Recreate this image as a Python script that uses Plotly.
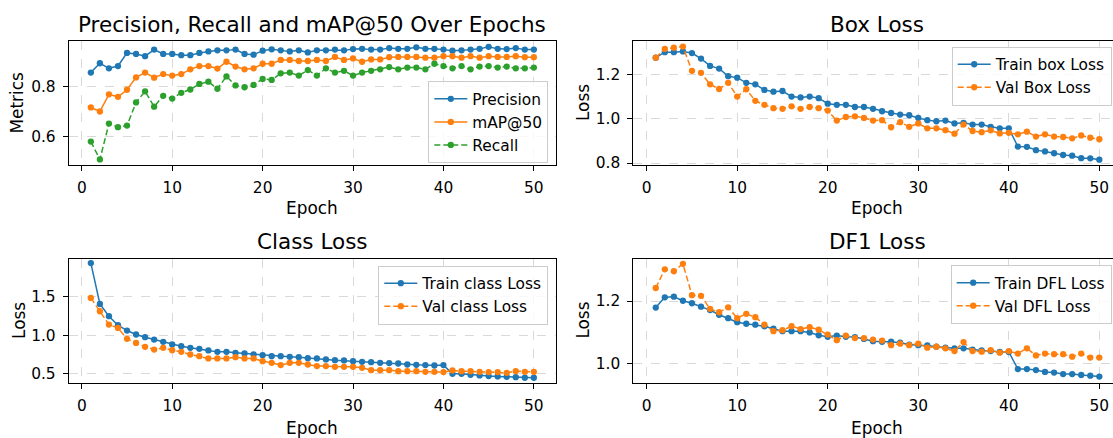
import plotly.graph_objects as go

epochs = list(range(1, 51))

precision = [0.855, 0.892, 0.872, 0.881, 0.933, 0.929, 0.920, 0.946, 0.929, 0.929,
             0.924, 0.924, 0.933, 0.939, 0.943, 0.943, 0.946, 0.929, 0.926, 0.942,
             0.947, 0.943, 0.939, 0.943, 0.935, 0.943, 0.943, 0.946, 0.943, 0.948,
             0.949, 0.946, 0.946, 0.952, 0.949, 0.949, 0.955, 0.949, 0.949, 0.946,
             0.942, 0.943, 0.946, 0.949, 0.957, 0.949, 0.948, 0.952, 0.946, 0.946]
map50 = [0.717, 0.701, 0.769, 0.759, 0.787, 0.836, 0.855, 0.835, 0.849, 0.843,
         0.849, 0.868, 0.881, 0.881, 0.871, 0.898, 0.879, 0.868, 0.872, 0.890,
         0.890, 0.905, 0.905, 0.901, 0.901, 0.905, 0.901, 0.917, 0.905, 0.911,
         0.898, 0.907, 0.907, 0.916, 0.917, 0.917, 0.917, 0.914, 0.914, 0.920,
         0.920, 0.914, 0.920, 0.914, 0.920, 0.917, 0.917, 0.920, 0.916, 0.916]
recall = [0.582, 0.511, 0.653, 0.639, 0.645, 0.737, 0.781, 0.720, 0.763, 0.752,
          0.775, 0.788, 0.810, 0.819, 0.791, 0.840, 0.804, 0.797, 0.806, 0.830,
          0.826, 0.852, 0.855, 0.843, 0.865, 0.843, 0.872, 0.855, 0.862, 0.843,
          0.855, 0.862, 0.868, 0.877, 0.868, 0.875, 0.875, 0.868, 0.890, 0.881,
          0.872, 0.881, 0.868, 0.879, 0.881, 0.875, 0.879, 0.872, 0.872, 0.875]

train_box = [1.274, 1.299, 1.299, 1.302, 1.295, 1.270, 1.237, 1.225, 1.191, 1.184,
             1.161, 1.154, 1.129, 1.121, 1.124, 1.099, 1.095, 1.099, 1.092, 1.067,
             1.062, 1.062, 1.052, 1.052, 1.044, 1.033, 1.025, 1.018, 1.015, 1.003,
             0.993, 0.988, 0.991, 0.978, 0.981, 0.973, 0.973, 0.963, 0.956, 0.956,
             0.874, 0.873, 0.858, 0.852, 0.844, 0.836, 0.833, 0.822, 0.821, 0.815]
val_box = [1.274, 1.314, 1.319, 1.324, 1.215, 1.206, 1.154, 1.133, 1.161, 1.099,
           1.132, 1.080, 1.062, 1.047, 1.044, 1.055, 1.044, 1.052, 1.047, 1.036,
           0.991, 1.007, 1.010, 1.003, 0.991, 0.993, 0.961, 0.984, 0.963, 0.978,
           0.956, 0.956, 0.948, 0.932, 0.973, 0.944, 0.939, 0.947, 0.933, 0.936,
           0.929, 0.941, 0.919, 0.929, 0.919, 0.917, 0.911, 0.924, 0.914, 0.907]

train_cls = [1.931, 1.403, 1.245, 1.129, 1.060, 1.009, 0.974, 0.944, 0.914, 0.880,
             0.858, 0.837, 0.824, 0.803, 0.785, 0.785, 0.773, 0.764, 0.751, 0.742,
             0.730, 0.730, 0.721, 0.717, 0.704, 0.700, 0.687, 0.678, 0.674, 0.665,
             0.657, 0.652, 0.644, 0.640, 0.635, 0.622, 0.618, 0.614, 0.609, 0.614,
             0.502, 0.502, 0.489, 0.481, 0.472, 0.468, 0.464, 0.459, 0.451, 0.451]
val_cls = [1.481, 1.309, 1.137, 1.094, 0.953, 0.901, 0.850, 0.815, 0.837, 0.807,
           0.785, 0.751, 0.730, 0.700, 0.700, 0.700, 0.717, 0.700, 0.700, 0.665,
           0.644, 0.614, 0.644, 0.644, 0.622, 0.601, 0.601, 0.592, 0.592, 0.592,
           0.579, 0.549, 0.549, 0.549, 0.536, 0.536, 0.536, 0.528, 0.528, 0.524,
           0.545, 0.536, 0.536, 0.528, 0.524, 0.524, 0.515, 0.536, 0.528, 0.528]

train_dfl = [1.179, 1.212, 1.214, 1.201, 1.193, 1.182, 1.171, 1.156, 1.145, 1.132,
             1.127, 1.124, 1.119, 1.111, 1.103, 1.103, 1.103, 1.099, 1.090, 1.085,
             1.089, 1.085, 1.084, 1.078, 1.071, 1.069, 1.069, 1.066, 1.060, 1.058,
             1.057, 1.053, 1.050, 1.048, 1.048, 1.044, 1.041, 1.039, 1.036, 1.036,
             0.981, 0.981, 0.978, 0.972, 0.970, 0.965, 0.965, 0.962, 0.960, 0.957]
val_dfl = [1.242, 1.302, 1.296, 1.320, 1.219, 1.217, 1.175, 1.164, 1.180, 1.145,
           1.159, 1.148, 1.124, 1.103, 1.106, 1.119, 1.110, 1.116, 1.108, 1.092,
           1.074, 1.089, 1.081, 1.081, 1.076, 1.073, 1.058, 1.063, 1.058, 1.063,
           1.050, 1.053, 1.048, 1.039, 1.068, 1.039, 1.037, 1.042, 1.034, 1.039,
           1.031, 1.048, 1.025, 1.031, 1.029, 1.029, 1.021, 1.031, 1.018, 1.018]

titles = ["Precision, Recall and mAP@50 Over Epochs", "Box Loss", "Class Loss", "DF1 Loss"]
xticks = [0, 10, 20, 30, 40, 50]

BLUE, ORANGE, GREEN = "#1f77b4", "#ff7f0e", "#2ca02c"
FONT = "DejaVu Sans"
W, H = 1113, 438
TICK = 15.4
LAB = 16.9
TIT = 21.5


def px(x):
    return x / W


def py(y):
    return 1 - y / H


fig = go.Figure()


def add(x, y, name, color, dash, xa, ya, leg):
    fig.add_trace(go.Scatter(
        x=x, y=y, name=name, mode="lines+markers",
        line=dict(color=color, width=1.5, dash=dash),
        marker=dict(color=color, size=6.3),
        xaxis=xa, yaxis=ya, legend=leg, legendgroup=name,
    ))


DASH = "6px,3px"
add(epochs, precision, "Precision", BLUE, "solid", "x", "y", "legend")
add(epochs, map50, "mAP@50", ORANGE, "solid", "x", "y", "legend")
add(epochs, recall, "Recall", GREEN, DASH, "x", "y", "legend")
add(epochs, train_box, "Train box Loss", BLUE, "solid", "x2", "y2", "legend2")
add(epochs, val_box, "Val Box Loss", ORANGE, DASH, "x2", "y2", "legend2")
add(epochs, train_cls, "Train class Loss", BLUE, "solid", "x3", "y3", "legend3")
add(epochs, val_cls, "Val class Loss", ORANGE, DASH, "x3", "y3", "legend3")
add(epochs, train_dfl, "Train DFL Loss", BLUE, "solid", "x4", "y4", "legend4")
add(epochs, val_dfl, "Val DFL Loss", ORANGE, DASH, "x4", "y4", "legend4")

left_dom = [px(68.7), px(556.0)]
right_dom = [px(633.3), 1.0]
top_dom = [py(167.7), py(41.7)]
bot_dom = [py(389.0), py(262.7)]

common = dict(
    showline=True, linecolor="black", linewidth=1,
    ticks="outside", ticklen=5, tickwidth=1, tickcolor="black",
    showgrid=True, gridcolor="#d9d9d9", griddash="dash", gridwidth=1,
    zeroline=False, tickfont=dict(family=FONT, size=TICK, color="black"),
    ticklabelstandoff=4,
)

fig.update_layout(
    xaxis=dict(domain=left_dom, range=[-1.45, 52.45], tickvals=xticks, mirror=True, anchor="y", **common),
    yaxis=dict(domain=top_dom, range=[0.489, 0.980], tickvals=[0.6, 0.8], tickformat=".1f", mirror=True, anchor="x", **common),
    xaxis2=dict(domain=right_dom, range=[-1.48, 51.51], tickvals=xticks, mirror=True, anchor="y2", **common),
    yaxis2=dict(domain=top_dom, range=[0.791, 1.349], tickvals=[0.8, 1.0, 1.2], tickformat=".1f", mirror=False, anchor="x2", **common),
    xaxis3=dict(domain=left_dom, range=[-1.45, 52.45], tickvals=xticks, mirror=True, anchor="y3", **common),
    yaxis3=dict(domain=bot_dom, range=[0.386, 1.99], tickvals=[0.5, 1.0, 1.5], tickformat=".1f", mirror=True, anchor="x3", **common),
    xaxis4=dict(domain=right_dom, range=[-1.48, 51.51], tickvals=xticks, mirror=True, anchor="y4", **common),
    yaxis4=dict(domain=bot_dom, range=[0.937, 1.337], tickvals=[1.0, 1.2], tickformat=".1f", mirror=False, anchor="x4", **common),
)

legend_common = dict(
    bgcolor="rgba(255,255,255,0.8)", bordercolor="#cccccc", borderwidth=1,
    font=dict(family=FONT, size=TICK, color="black"),
    tracegroupgap=0, itemwidth=33,
)
fig.update_layout(
    legend=dict(x=px(548.3), y=py(166), xanchor="right", yanchor="bottom", **legend_common),
    legend2=dict(x=px(1111.7), y=py(47.5), xanchor="right", yanchor="top", **legend_common),
    legend3=dict(x=px(548.3), y=py(270.0), xanchor="right", yanchor="top", **legend_common),
    legend4=dict(x=px(1111.7), y=py(269.5), xanchor="right", yanchor="top", **legend_common),
)

ann = []
title_pos = [(312.4, 24.5), (877.4, 24.5), (312.4, 245.5), (877.4, 245.5)]
for t, (x, y) in zip(titles, title_pos):
    ann.append(dict(text=t, x=px(x), y=py(y), xref="paper", yref="paper",
                    xanchor="center", yanchor="middle", showarrow=False,
                    font=dict(family=FONT, size=TIT, color="black")))
for (x, y) in [(312.4, 211.5), (877.4, 211.5), (312.4, 435.0), (877.4, 435.0)]:
    ann.append(dict(text="Epoch", x=px(x), y=py(y), xref="paper", yref="paper",
                    xanchor="center", yanchor="middle", showarrow=False,
                    font=dict(family=FONT, size=LAB, color="black")))
for t, (x, y) in zip(["Metrics", "Loss", "Loss", "Loss"],
                     [(17.5, 104.7), (583.0, 104.7), (18.3, 325.8), (583.0, 325.8)]):
    ann.append(dict(text=t, x=px(x), y=py(y), xref="paper", yref="paper",
                    xanchor="center", yanchor="middle", textangle=-90, showarrow=False,
                    font=dict(family=FONT, size=LAB, color="black")))

fig.update_layout(
    annotations=ann,
    width=W, height=H,
    margin=dict(l=0, r=0, t=0, b=0),
    paper_bgcolor="white", plot_bgcolor="white",
    showlegend=True,
)

fig.write_html(
    "out.html",
    config={"displayModeBar": False},
    post_script="document.body.style.margin='0';document.body.style.padding='0';document.body.style.overflow='hidden';",
)
